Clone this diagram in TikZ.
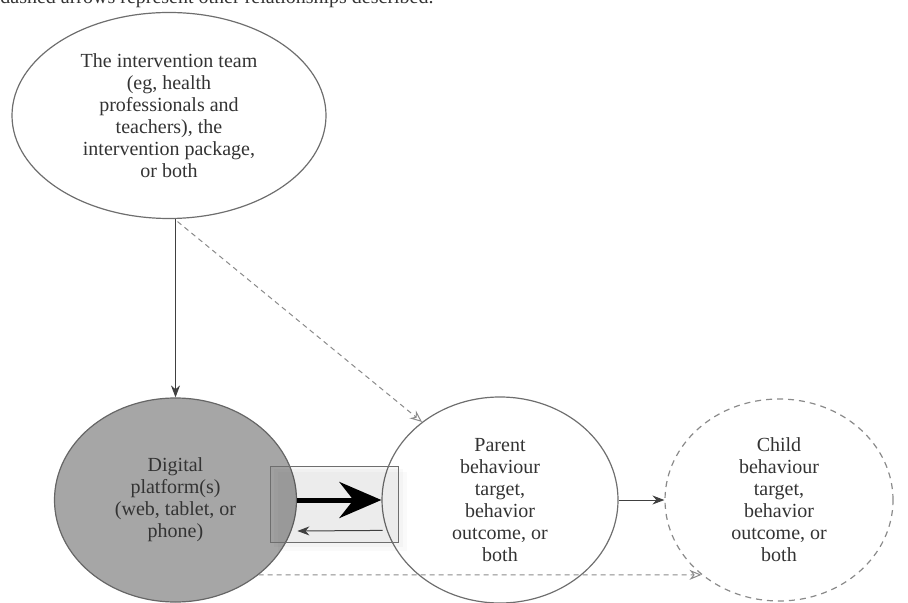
\documentclass[tikz,border=0pt]{standalone}
\usepackage{fontspec}
\setmainfont{Liberation Serif}
\usetikzlibrary{shapes.geometric,arrows.meta}
\definecolor{ink}{HTML}{333333}
\definecolor{rim}{HTML}{6E6E6E}
\definecolor{slate}{HTML}{A6A6A6}
\definecolor{faint}{HTML}{8A8A8A}

\begin{document}
\begin{tikzpicture}[x=0.5pt,y=-0.5pt,
    bubble/.style={ellipse,draw=rim,line width=0.6pt,inner sep=0pt,align=center,
                   font=\fontsize{10}{11}\selectfont,text=ink},
    link/.style={-{Stealth[length=6pt,width=4.5pt]},line width=0.5pt,draw=black!75},
    other/.style={-{Stealth[open,length=6pt,width=5pt]},line width=0.5pt,draw=faint,
                  dash pattern=on 2.5pt off 2pt}]
  \useasboundingbox (0,0) rectangle (908,603);
  \node[anchor=base west,inner sep=0pt,font=\fontsize{10}{11}\selectfont,text=ink] (caption) at (0,3.5)
    {dashed arrows represent other relationships described.};

  \node[bubble,minimum width=157pt,minimum height=103pt] (team) at (169,115.5)
    {The intervention team\\(eg, health\\professionals and\\teachers), the\\intervention package,\\or both};
  \node[bubble,fill=slate,draw=black!60,minimum width=121pt,minimum height=102pt] (platform) at (175.5,500)
    {Digital\\platform(s)\\(web, tablet, or\\phone)};
  \node[bubble,minimum width=118pt,minimum height=103pt] (parent) at (500,500)
    {Parent\\behaviour\\target,\\behavior\\outcome, or\\both};
  \node[bubble,draw=faint,dash pattern=on 3pt off 2.5pt,minimum width=114pt,minimum height=101pt] (child) at (779,500)
    {Child\\behaviour\\target,\\behavior\\outcome, or\\both};

  % two-way exchange between platform and parent
  \fill[black,opacity=0.025] (274,469) rectangle (403,547);
  \fill[black,opacity=0.02] (278,472) rectangle (407,551);
  \node[draw=rim,fill=black,fill opacity=0.03,minimum width=64pt,minimum height=38pt,inner sep=0pt] (exchange) at (334,504) {};

  \draw[link] (team.south -| platform.north) -- (platform.north);
  \draw[other,shorten <=2pt] (team.-87) -- (parent.135);
  \draw[line width=2.5pt,-{Stealth[length=21pt,width=18pt,inset=7pt]}] (platform.east) -- (parent.west);
  \draw[link,shorten <=2pt,shorten >=3pt] (parent.195) -- (platform.-15);
  \draw[link] (parent.east) -- (child.west);
  \draw[other] (platform.-42) -- (child.224);
\end{tikzpicture}
\end{document}
